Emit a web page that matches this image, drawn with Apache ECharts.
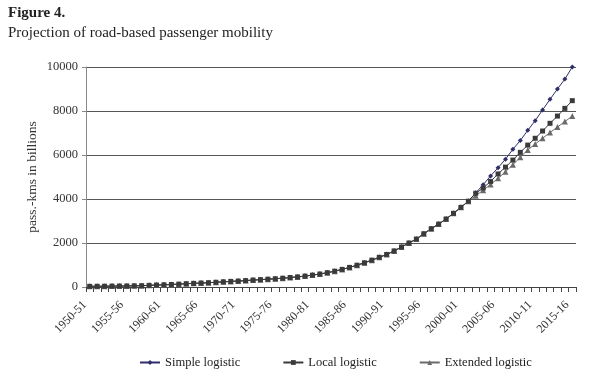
<!DOCTYPE html>
<html>
<head>
<meta charset="utf-8">
<script src="https://cdn.jsdelivr.net/npm/echarts@6/dist/echarts.min.js"></script>
<style>
html,body{margin:0;padding:0;background:#fff;}
#chart{width:596px;height:382px;}
</style>
</head>
<body>
<div id="chart"></div>
<script>
const categories = [
'1950-51','1951-52','1952-53','1953-54','1954-55','1955-56','1956-57','1957-58','1958-59','1959-60',
'1960-61','1961-62','1962-63','1963-64','1964-65','1965-66','1966-67','1967-68','1968-69','1969-70',
'1970-71','1971-72','1972-73','1973-74','1974-75','1975-76','1976-77','1977-78','1978-79','1979-80',
'1980-81','1981-82','1982-83','1983-84','1984-85','1985-86','1986-87','1987-88','1988-89','1989-90',
'1990-91','1991-92','1992-93','1993-94','1994-95','1995-96','1996-97','1997-98','1998-99','1999-00',
'2000-01','2001-02','2002-03','2003-04','2004-05','2005-06','2006-07','2007-08','2008-09','2009-10',
'2010-11','2011-12','2012-13','2013-14','2014-15','2015-16'
];

const simpleLogistic = [
30,33,36,40,44,48,53,60,75,90,
100,115,130,150,165,180,195,215,235,255,
270,290,315,335,355,375,400,430,460,495,
540,590,650,720,800,890,990,1100,1220,1350,
1480,1640,1820,2000,2180,2420,2650,2860,3090,3350,
3620,3900,4280,4650,5050,5420,5810,6260,6660,7120,
7560,8050,8530,9000,9450,10000
];

const localLogistic = [
30,33,36,40,44,48,53,60,75,90,
100,115,130,150,165,180,195,215,235,255,
270,290,315,335,355,375,400,430,460,495,
540,590,650,720,800,890,990,1100,1220,1350,
1480,1640,1820,2000,2180,2420,2650,2860,3090,3350,
3620,3900,4260,4500,4800,5140,5450,5770,6120,6450,
6760,7090,7440,7770,8120,8470
];

const extendedLogistic = [
30,33,36,40,44,48,53,60,75,90,
100,115,130,150,165,180,195,215,235,255,
270,290,315,335,355,375,400,430,460,495,
540,590,650,720,800,890,990,1100,1220,1350,
1480,1640,1820,2000,2180,2420,2650,2860,3090,3350,
3620,3900,4150,4400,4660,4940,5240,5560,5900,6230,
6500,6760,7020,7270,7520,7770
];

const serif = '"Liberation Serif", "DejaVu Serif", serif';
const chart = echarts.init(document.getElementById('chart'), null, {renderer: 'canvas'});

function mkSeries(name, data, color, symbol, size) {
  return {
    name: name, type: 'line', data: data,
    symbol: symbol, symbolSize: size, showSymbol: true, showAllSymbol: true,
    lineStyle: {color: color, width: 1},
    itemStyle: {color: color, borderWidth: 0},
    emphasis: {disabled: true}
  };
}

chart.setOption({
  animation: false,
  backgroundColor: '#fff',
  title: [
    {text: 'Figure 4.', left: 8, top: 6, padding: 0, textStyle: {fontFamily: serif, fontSize: 15, fontWeight: 'bold', color: '#222'}},
    {text: 'Projection of road-based passenger mobility', left: 8, top: 26, padding: 0, textStyle: {fontFamily: serif, fontSize: 15, fontWeight: 'normal', color: '#222'}}
  ],
  grid: {left: 86, right: 20, top: 67, bottom: 95, containLabel: false},
  legend: {
    left: 134, top: 351, itemWidth: 20, itemHeight: 6, itemGap: 42,
    textStyle: {fontFamily: serif, fontSize: 12.5, color: '#222'},
    data: ['Simple logistic', 'Local logistic', 'Extended logistic']
  },
  xAxis: {
    type: 'category', data: categories, boundaryGap: true,
    axisLine: {lineStyle: {color: '#444', width: 1}},
    axisTick: {show: true, interval: 0, length: 5, lineStyle: {color: '#444'}},
    axisLabel: {interval: 4, rotate: 45, margin: 11, padding: [0, 7, 0, 0], fontFamily: serif, fontSize: 12, color: '#333'},
    splitLine: {show: false}
  },
  yAxis: {
    type: 'value', min: 0, max: 10000, interval: 2000,
    name: 'pass.-kms in billions', nameLocation: 'middle', nameGap: 47, nameMoveOverlap: false,
    nameTextStyle: {fontFamily: serif, fontSize: 13.5, color: '#333'},
    axisLine: {show: true, lineStyle: {color: '#888', width: 1}},
    axisTick: {show: true, length: 4, inside: false, lineStyle: {color: '#888'}},
    axisLabel: {margin: 8, fontFamily: serif, fontSize: 12.5, color: '#333', formatter: function (v) { return String(v); }},
    splitLine: {show: true, lineStyle: {color: '#555', width: 1}}
  },
  series: [
    mkSeries('Simple logistic', simpleLogistic, '#2e2e6a', 'diamond', 5),
    mkSeries('Extended logistic', extendedLogistic, '#6a6a6a', 'triangle', 6),
    mkSeries('Local logistic', localLogistic, '#3a3a3a', 'rect', 5)
  ]
});
</script>
</body>
</html>
